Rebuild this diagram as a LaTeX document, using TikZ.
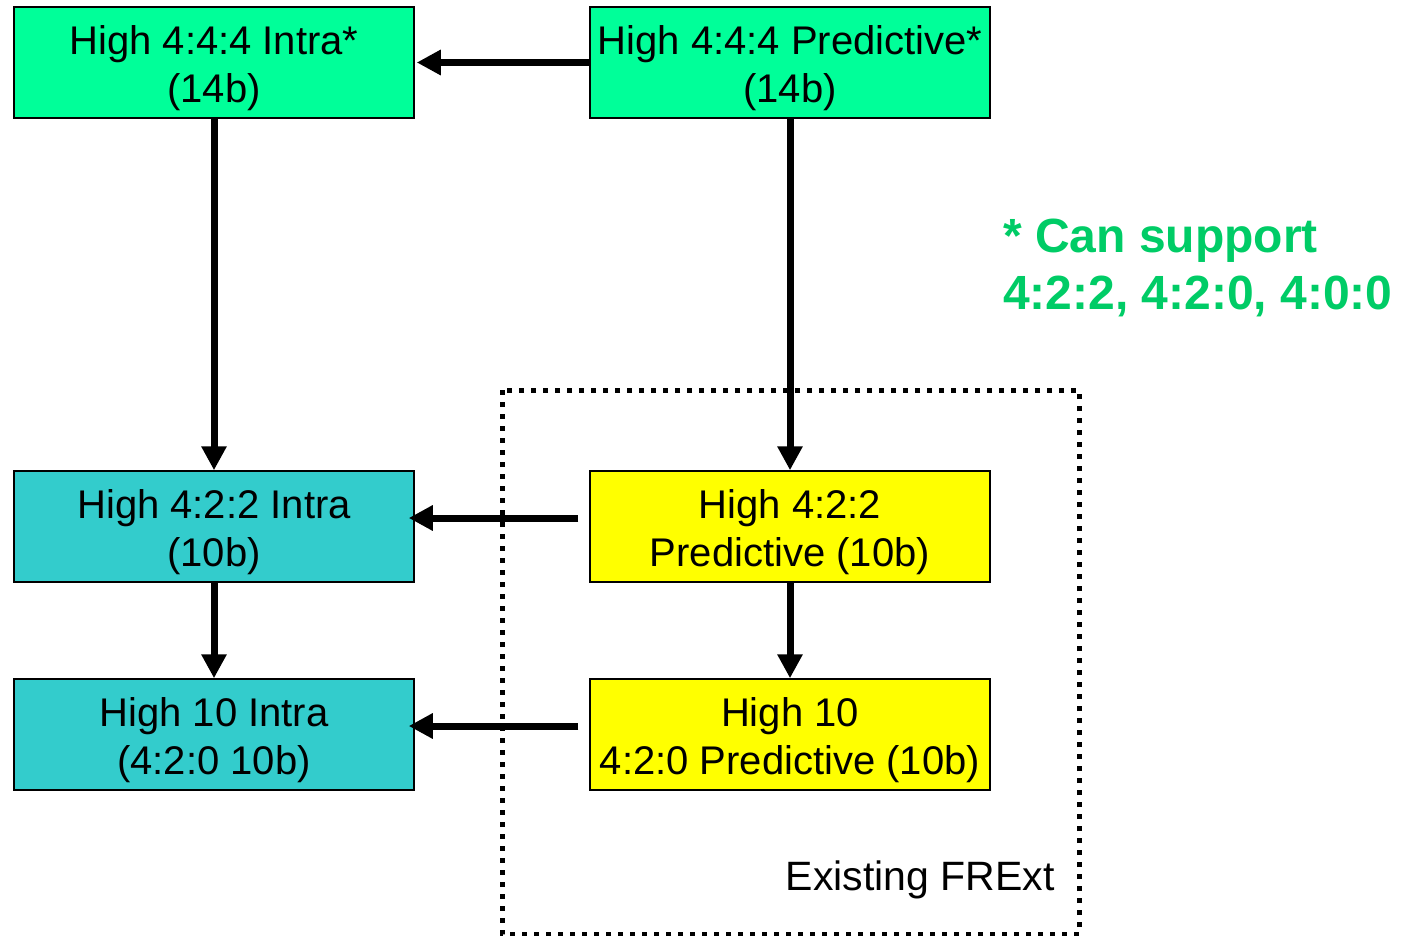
\documentclass[tikz,border=0pt]{standalone}
\usepackage{fontspec}
\setmainfont{Liberation Sans}
\usetikzlibrary{arrows.meta}
\definecolor{hgreen}{RGB}{0,255,153}
\definecolor{hteal}{RGB}{51,204,204}
\definecolor{hyellow}{RGB}{255,255,0}
\definecolor{notegreen}{RGB}{0,204,102}
\tikzset{
  prof/.style={draw=black, line width=1.5pt, minimum width=400pt, minimum height=111pt,
    inner sep=0pt, align=center, text height=89pt, font=\fontsize{40}{48}\selectfont},
  link/.style={line width=7pt, -{Triangle[length=24pt,width=24pt]}},
}
\begin{document}
\begin{tikzpicture}[x=1pt,y=-1pt]
\useasboundingbox (0,0) rectangle (1408,936);
% dotted region
\draw[line width=5pt, dash pattern=on 5pt off 7pt] (502,390) rectangle (1079,934);
\node[prof, fill=hgreen] (A) at (214,62.5) {High 4:4:4 Intra*\\(14b)};
\node[prof, fill=hgreen] (B) at (790,62.5) {High 4:4:4 Predictive*\\(14b)};
\node[prof, fill=hteal] (C) at (214,526.5) {High 4:2:2 Intra\\(10b)};
\node[prof, fill=hyellow] (D) at (790,526.5) {High 4:2:2\\Predictive (10b)};
\node[prof, fill=hteal] (E) at (214,734.5) {High 10 Intra\\(4:2:0 10b)};
\node[prof, fill=hyellow] (F) at (790,734.5) {High 10\\4:2:0 Predictive (10b)};
\draw[link] (B.west) -- ([xshift=2pt]A.east);
\draw[link] (A.south) -- (C.north);
\draw[link] (B.south) -- (D.north);
\draw[link] (C.south) -- (E.north);
\draw[link] (D.south) -- (F.north);
\draw[link] ([xshift=-11pt,yshift=8.5pt]D.west) -- ([xshift=-6pt,yshift=8.5pt]C.east);
\draw[link] ([xshift=-11pt,yshift=8.5pt]F.west) -- ([xshift=-6pt,yshift=8.5pt]E.east);
\node[anchor=base west, inner sep=0pt, text=notegreen, font=\fontsize{48}{57}\selectfont\bfseries] (note1) at (1003,252) {* Can support};
\node[anchor=base west, inner sep=0pt, text=notegreen, font=\fontsize{48}{57}\selectfont\bfseries] (note2) at (1003,309) {4:2:2, 4:2:0, 4:0:0};
\node[anchor=base east, inner sep=0pt, font=\fontsize{41}{48}\selectfont] (frext) at (1055,890) {Existing FRExt};
\end{tikzpicture}
\end{document}
